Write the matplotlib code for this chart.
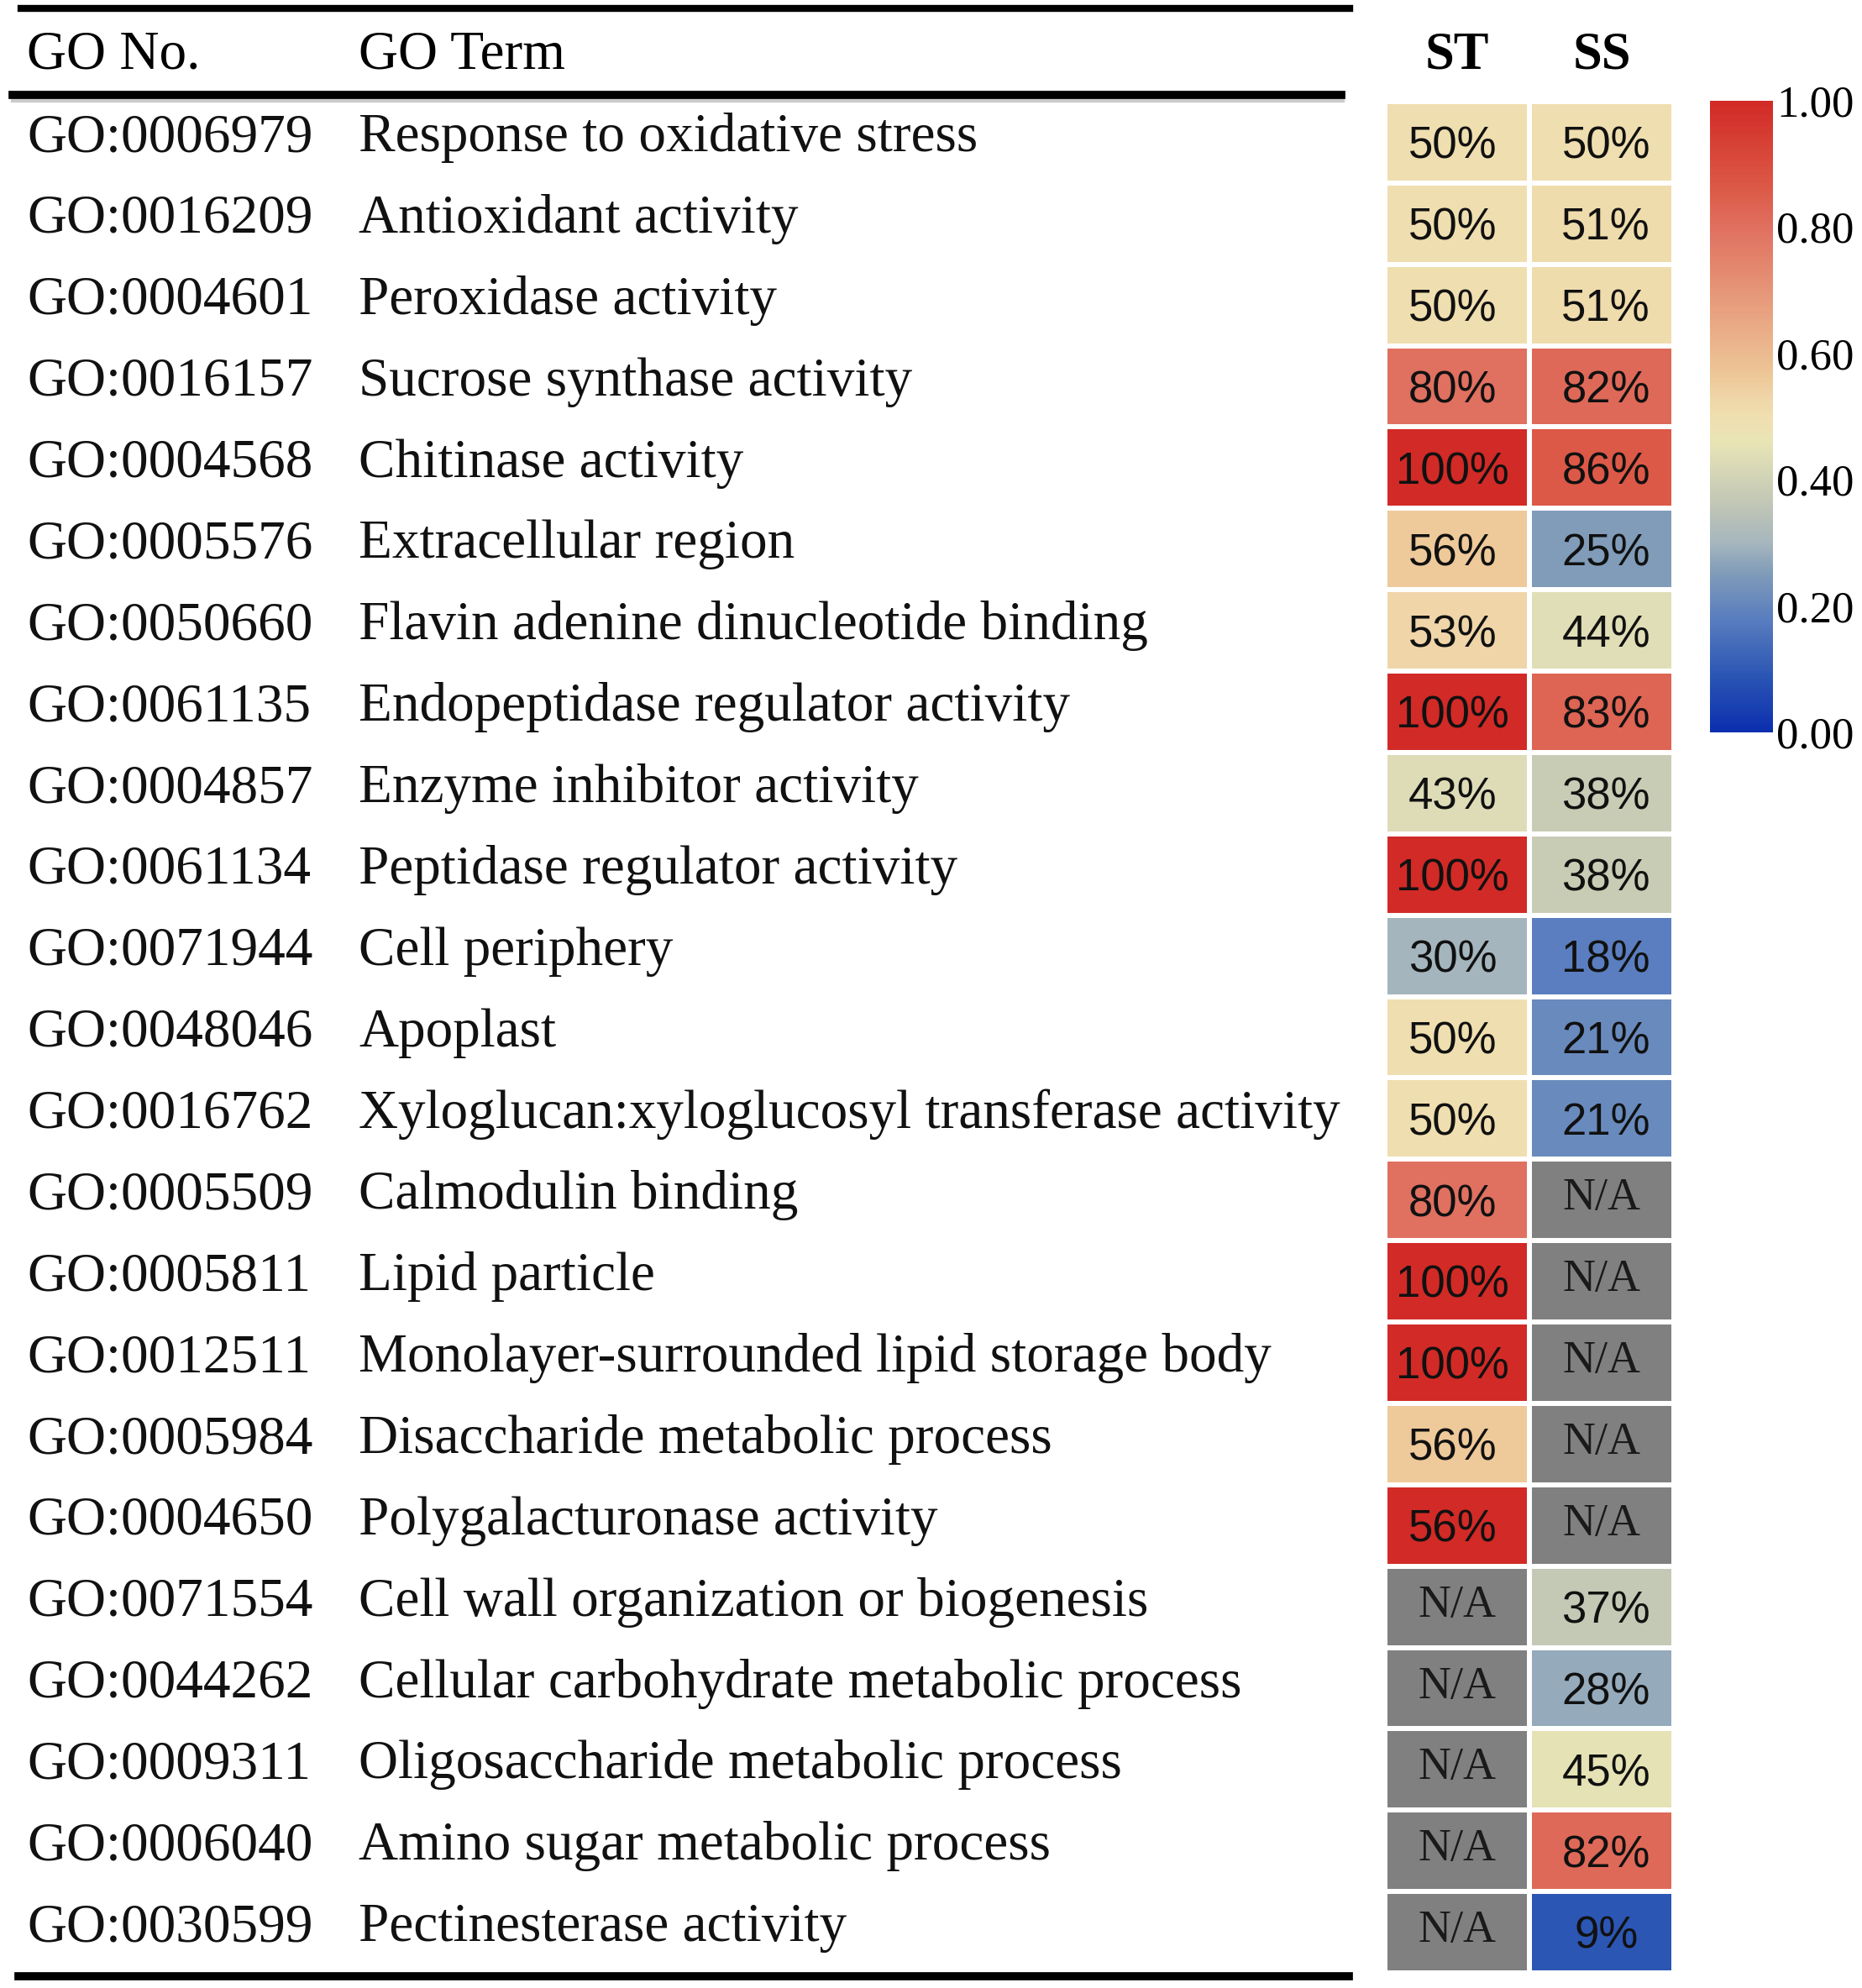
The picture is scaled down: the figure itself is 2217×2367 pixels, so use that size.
import numpy as np
import matplotlib
matplotlib.use("Agg")
from matplotlib import pyplot as plt
from matplotlib.colors import LinearSegmentedColormap
from matplotlib.lines import Line2D
from matplotlib.transforms import blended_transform_factory

go_ids = [
    "GO:0006979", "GO:0016209", "GO:0004601", "GO:0016157", "GO:0004568",
    "GO:0005576", "GO:0050660", "GO:0061135", "GO:0004857", "GO:0061134",
    "GO:0071944", "GO:0048046", "GO:0016762", "GO:0005509", "GO:0005811",
    "GO:0012511", "GO:0005984", "GO:0004650", "GO:0071554", "GO:0044262",
    "GO:0009311", "GO:0006040", "GO:0030599",
]
go_terms = [
    "Response to oxidative stress",
    "Antioxidant activity",
    "Peroxidase activity",
    "Sucrose synthase activity",
    "Chitinase activity",
    "Extracellular region",
    "Flavin adenine dinucleotide binding",
    "Endopeptidase regulator activity",
    "Enzyme inhibitor activity",
    "Peptidase regulator activity",
    "Cell periphery",
    "Apoplast",
    "Xyloglucan:xyloglucosyl transferase activity",
    "Calmodulin binding",
    "Lipid particle",
    "Monolayer-surrounded lipid storage body",
    "Disaccharide metabolic process",
    "Polygalacturonase activity",
    "Cell wall organization or biogenesis",
    "Cellular carbohydrate metabolic process",
    "Oligosaccharide metabolic process",
    "Amino sugar metabolic process",
    "Pectinesterase activity",
]
columns = ["ST", "SS"]

# cell colour values (nan = N/A)
st_vals = [0.50, 0.50, 0.50, 0.80, 1.00, 0.56, 0.53, 1.00, 0.43, 1.00, 0.30, 0.50,
           0.50, 0.80, 1.00, 1.00, 0.56, 1.00, np.nan, np.nan, np.nan, np.nan, np.nan]
ss_vals = [0.50, 0.51, 0.51, 0.82, 0.86, 0.25, 0.44, 0.83, 0.38, 0.38, 0.18, 0.21,
           0.21, np.nan, np.nan, np.nan, np.nan, np.nan, 0.37, 0.28, 0.45, 0.82, 0.09]
# printed labels
st_labels = ["50%", "50%", "50%", "80%", "100%", "56%", "53%", "100%", "43%", "100%",
             "30%", "50%", "50%", "80%", "100%", "100%", "56%", "56%",
             "N/A", "N/A", "N/A", "N/A", "N/A"]
ss_labels = ["50%", "51%", "51%", "82%", "86%", "25%", "44%", "83%", "38%", "38%",
             "18%", "21%", "21%", "N/A", "N/A", "N/A", "N/A", "N/A",
             "37%", "28%", "45%", "82%", "9%"]
cbar_ticks = [0.0, 0.2, 0.4, 0.6, 0.8, 1.0]

W, H = 2217, 2367
fig = plt.figure(figsize=(W / 100, H / 100), dpi=100)

cmap = LinearSegmentedColormap.from_list("go", [
    (0.00, "#0b2fae"), (0.09, "#2c56b4"), (0.18, "#5a7ebf"), (0.25, "#7f9bb9"),
    (0.30, "#a6b6bd"), (0.37, "#c5c9b5"), (0.43, "#dcdcb7"), (0.46, "#e9e4b4"),
    (0.50, "#efdfb0"), (0.53, "#efd5a8"), (0.56, "#eec99a"), (0.80, "#e07060"),
    (0.86, "#dc5a48"), (1.00, "#d22a26"),
])
cmap.set_bad("#808080")

n = len(go_ids)
data = np.ma.masked_invalid(np.array([st_vals, ss_vals]).T)

hax = fig.add_axes([1649 / W, 1 - 2349 / H, (1993 - 1649) / W, (2349 - 121) / H])
mesh = hax.pcolormesh(data, cmap=cmap, vmin=0, vmax=1, edgecolors="white", linewidth=3)
hax.set_xlim(0, 2)
hax.set_ylim(n, 0)
hax.axis("off")

shift = [-0.03, 0.03]
for i in range(n):
    for j, lab in enumerate([st_labels[i], ss_labels[i]]):
        if lab == "N/A":
            hax.text(j + 0.5, i + 0.62, lab, ha="center", va="baseline", fontsize=39,
                     family="Liberation Serif", color="#1a1a1a")
        else:
            hax.text(j + 0.5 + shift[j], i + 0.70, lab, ha="center", va="baseline",
                     fontsize=38, family="Liberation Sans", color="#111111")

tr = blended_transform_factory(fig.transFigure, hax.transData)
for i in range(n):
    hax.text(32 / W, i + 0.61, go_ids[i], transform=tr, ha="left", va="baseline",
             fontsize=47, family="Liberation Serif", color="#111111", clip_on=False)
    hax.text(427 / W, i + 0.61, go_terms[i], transform=tr, ha="left", va="baseline",
             fontsize=47, family="Liberation Serif", color="#111111", clip_on=False)

# header
hy = 1 - 82 / H
fig.text(32 / W, hy, "GO No.", ha="left", va="baseline", fontsize=47, family="Liberation Serif")
fig.text(427 / W, hy, "GO Term", ha="left", va="baseline", fontsize=47, family="Liberation Serif")
trh = blended_transform_factory(hax.transData, fig.transFigure)
for j, c in enumerate(columns):
    fig.text(j + 0.5, hy, c, transform=trh, ha="center", va="baseline", fontsize=45,
             family="Liberation Serif", weight="bold")

# table rules
fig.add_artist(Line2D([25 / W, 1607 / W], [1 - 10 / H, 1 - 10 / H], color="black", lw=6))
fig.add_artist(Line2D([17 / W, 1597 / W], [1 - 118 / H, 1 - 118 / H], color="#999999", lw=6, alpha=0.5))
fig.add_artist(Line2D([15 / W, 1597 / W], [1 - 113 / H, 1 - 113 / H], color="black", lw=7))
fig.add_artist(Line2D([22 / W, 1606 / W], [1 - 2353 / H, 1 - 2353 / H], color="black", lw=7))

# colorbar
cax = fig.add_axes([2036 / W, 1 - 872 / H, 75 / W, (872 - 120) / H])
cb = fig.colorbar(mesh, cax=cax, ticks=cbar_ticks)
cb.outline.set_visible(False)
cb.ax.set_yticklabels(["%.2f" % t for t in cbar_ticks], family="Liberation Serif", fontsize=38)
cb.ax.tick_params(length=0, pad=3)

fig.savefig("out.png", dpi=100)
